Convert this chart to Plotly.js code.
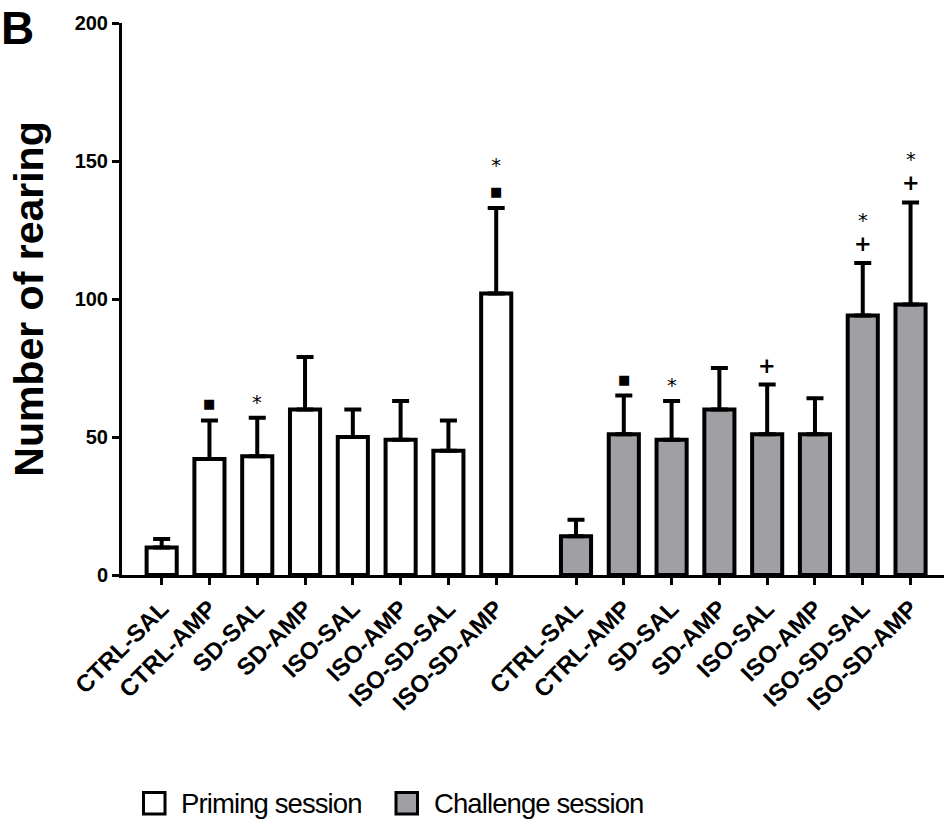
<!DOCTYPE html>
<html>
<head>
<meta charset="utf-8">
<script src="https://cdn.plot.ly/plotly-3.0.1.min.js"></script>
<style>html,body{margin:0;padding:0;background:#fff;}#chart{width:944px;height:834px;}</style>
</head>
<body>
<div id="chart"></div>
<script>
// ---- data ----
const categories = ['CTRL-SAL','CTRL-AMP','SD-SAL','SD-AMP','ISO-SAL','ISO-AMP','ISO-SD-SAL','ISO-SD-AMP'];
const primingMean   = [10, 42, 43, 60, 50, 49, 45, 102];
const primingErr    = [3, 14, 14, 19, 10, 14, 11, 31];
const challengeMean = [14, 51, 49, 60, 51, 51, 94, 98];
const challengeErr  = [6, 14, 14, 15, 18, 13, 19, 37];
const primingMarks   = [[], ['■'], ['*'], [], [], [], [], ['■','*']];
const challengeMarks = [[], ['■'], ['*'], [], ['+'], [], ['+','*'], ['+','*']];
const yTickVals = [0, 50, 100, 150, 200];
const seriesNames = ['Priming session', 'Challenge session'];

// ---- layout helpers ----
const W = 944, H = 834;
const PL = 122, PT = 23, PB = 259, PR = 0;
const PW = W - PL - PR, PH = H - PT - PB;
const px2x = p => (p - PL) / PW;
const py2y = p => (PT + PH - p) / PH;
const GROUP_OFFSET = 8.67;
const FONT = 'Liberation Sans, Arial, sans-serif';

const xP = categories.map((_, i) => i);
const xC = categories.map((_, i) => i + GROUP_OFFSET);
const zeros = categories.map(() => 0);

function barTrace(x, y, err, fill, name) {
  return {
    type: 'bar', x: x, y: y, name: name, width: 0.63,
    marker: {color: fill, line: {color: '#000', width: 4}},
    error_y: {type: 'data', symmetric: false, array: err, arrayminus: zeros,
              color: '#000', thickness: 4, width: 8.5},
    showlegend: false, hoverinfo: 'skip'
  };
}

const traces = [
  barTrace(xP, primingMean, primingErr, '#ffffff', seriesNames[0]),
  barTrace(xC, challengeMean, challengeErr, '#a09fa4', seriesNames[1])
];

const annotations = [];
const markStyle = {
  '*': 'font-family:DejaVu Sans;font-size:19.5px;font-weight:normal',
  '+': 'font-family:DejaVu Sans;font-size:21px;font-weight:bold',
  '■': 'font-family:DejaVu Sans;font-size:13px'
};
function addMarks(xs, means, errs, marks) {
  marks.forEach((list, i) => {
    if (!list.length) return;
    const lines = list.slice().reverse().map(m => '<span style="' + markStyle[m] + '">' + m + '</span>');
    const bottom = list[0];
    annotations.push({
      x: xs[i], y: means[i] + errs[i], xref: 'x', yref: 'y',
      text: lines.join('<br>'), showarrow: false, xanchor: 'center', yanchor: 'bottom',
      yshift: bottom === '*' ? 2 : (bottom === '+' ? 5 : 7),
      font: {family: FONT, size: 18.5, color: '#000'}
    });
  });
}
addMarks(xP, primingMean, primingErr, primingMarks);
addMarks(xC, challengeMean, challengeErr, challengeMarks);

// panel letter
annotations.push({
  xref: 'paper', yref: 'paper', x: px2x(-1), y: py2y(0),
  xanchor: 'left', yanchor: 'top', showarrow: false, text: '<b>B</b>',
  font: {family: FONT, size: 46, color: '#000'}
});

// custom legend
const shapes = [];
const legendItems = [
  {name: seriesNames[0], fill: '#ffffff', sx: 143.5, tx: 179},
  {name: seriesNames[1], fill: '#a09fa4', sx: 396, tx: 432}
];
legendItems.forEach(it => {
  shapes.push({type: 'rect', xref: 'paper', yref: 'paper',
    x0: px2x(it.sx), x1: px2x(it.sx + 21.5), y0: py2y(814), y1: py2y(792.5),
    line: {color: '#000', width: 3}, fillcolor: it.fill});
  annotations.push({xref: 'paper', yref: 'paper', x: px2x(it.tx), y: py2y(803.5),
    xanchor: 'left', yanchor: 'middle', align: 'left', showarrow: false, text: it.name,
    font: {family: FONT, size: 27.5, color: '#000'}});
});

const layout = {
  width: W, height: H,
  margin: {l: PL, r: PR, t: PT, b: PB, pad: 0},
  paper_bgcolor: '#fff', plot_bgcolor: '#fff',
  barmode: 'overlay',
  showlegend: false,
  font: {family: FONT, color: '#000'},
  xaxis: {
    range: [-0.83, 16.37], tickmode: 'array',
    tickvals: xP.concat(xC), ticktext: categories.concat(categories),
    tickangle: -45, ticks: 'outside', ticklen: 7, tickwidth: 3, tickcolor: '#000',
    showline: true, linecolor: '#000', linewidth: 3,
    showgrid: false, zeroline: false,
    tickfont: {family: FONT, size: 24, color: '#000', weight: 'bold'}
  },
  yaxis: {
    range: [0, 200], tickmode: 'array', tickvals: yTickVals,
    ticktext: yTickVals.map(String),
    ticks: 'outside', ticklen: 7, tickwidth: 3, tickcolor: '#000',
    showline: true, linecolor: '#000', linewidth: 3,
    showgrid: false, zeroline: false,
    tickfont: {family: FONT, size: 20, color: '#000', weight: 'bold'},
    title: {text: '<b>Number of rearing</b>', standoff: 19,
            font: {family: FONT, size: 41, color: '#000'}}
  },
  annotations: annotations,
  shapes: shapes
};

Plotly.newPlot('chart', traces, layout, {displayModeBar: false, staticPlot: true}).then(gd => {
  // condense the legend labels, as in the original figure
  gd.querySelectorAll('.annotation-text').forEach(t => {
    if (seriesNames.indexOf(t.textContent) >= 0) t.style.letterSpacing = '-0.9px';
  });
});
</script>
</body>
</html>
